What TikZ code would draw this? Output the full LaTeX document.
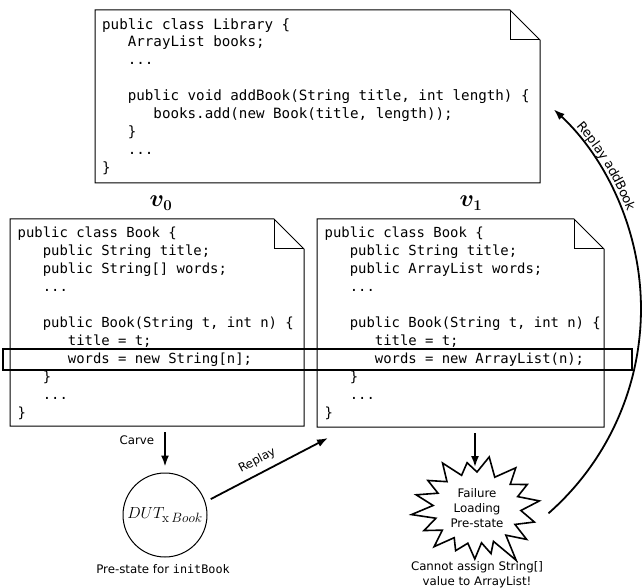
\RequirePackage{fix-cm}
\documentclass[tikz,border=0pt]{standalone}
\usepackage{amsmath,bm}
\usepackage[no-math]{fontspec}
\setmainfont{DejaVu Sans}
\setsansfont{DejaVu Sans}
\setmonofont{DejaVu Sans Mono}
\usetikzlibrary{arrows.meta,decorations.text}

% three-character indentation in the monospaced listings
\newcommand\codeind{\phantom{xxx}}
% page outline with a folded top-right corner around a named node
\newcommand\foldpage[1]{%
  \draw[boxline] (#1.north west) -- ([xshift=-30pt]#1.north east)
    -- ([yshift=-30pt]#1.north east) -- (#1.south east) -- (#1.south west) -- cycle;
  \draw[boxline] ([xshift=-30pt]#1.north east) |- ([yshift=-30pt]#1.north east);}

\begin{document}
\begin{tikzpicture}[x=1pt,y=1pt,
  boxline/.style={line width=1pt},
  pagebox/.style={rectangle, inner sep=0pt, outer sep=0pt, anchor=north west},
  code/.style={font=\ttfamily\fontsize{14.2}{17.9}\selectfont, align=left,
    inner sep=0pt, anchor=north west},
  bookcode/.style={code, font=\ttfamily\fontsize{13.9}{18}\selectfont},
  lbl/.style={font=\fontsize{11.8}{15}\selectfont, inner sep=0pt},
  arr/.style={line width=1.8pt, -{Latex[length=11pt,width=8pt]}},
]
\fill[white] (0,0) rectangle (643,-588);
\useasboundingbox (0,0) rectangle (643,-588);

% ---- class Library ----
\node[pagebox, minimum width=445pt, minimum height=173pt] (lib) at (95,-10) {};
\foldpage{lib}
\node[code] (libcode) at ([shift={(7pt,-8pt)}]lib.north west) {public class Library \{\\
\codeind ArrayList books;\\
\codeind ...\\
\mbox{}\\
\codeind public void addBook(String title, int length) \{\\
\codeind\codeind books.add(new Book(title, length));\\
\codeind \}\\
\codeind ...\\
\}};

% ---- version v0 of class Book ----
\node[pagebox, minimum width=294pt, minimum height=207pt] (v0) at (10,-219) {};
\foldpage{v0}
\node[bookcode] (v0code) at ([shift={(7.5pt,-8pt)}]v0.north west) {public class Book \{\\
\codeind public String title;\\
\codeind public String[] words;\\
\codeind ...\\
\mbox{}\\
\codeind public Book(String t, int n) \{\\
\codeind\codeind title = t;\\
\codeind\codeind words = new String[n];\\
\codeind \}\\
\codeind ...\\
\}};
\node[anchor=base, inner sep=0pt] (v0lbl) at (161,-207)
  {\fontsize{24}{24}\selectfont$\bm{v}_{\mbox{\fontsize{15}{15}\selectfont$\bm{0}$}}$};

% ---- version v1 of class Book ----
\node[pagebox, minimum width=287pt, minimum height=208pt] (v1) at (317,-219) {};
\foldpage{v1}
\node[bookcode] (v1code) at ([shift={(7.5pt,-8pt)}]v1.north west) {public class Book \{\\
\codeind public String title;\\
\codeind public ArrayList words;\\
\codeind ...\\
\mbox{}\\
\codeind public Book(String t, int n) \{\\
\codeind\codeind title = t;\\
\codeind\codeind words = new ArrayList(n);\\
\codeind \}\\
\codeind ...\\
\}};
\node[anchor=base, inner sep=0pt] (v1lbl) at (471,-207)
  {\fontsize{24}{24}\selectfont$\bm{v}_{\mbox{\fontsize{15}{15}\selectfont$\bm{1}$}}$};

% changed statement, highlighted across both versions
\node[draw, line width=1.8pt, minimum width=629pt, minimum height=21pt,
  inner sep=0pt, outer sep=0pt, anchor=north west] (hl) at (3,-349) {};

% ---- carved pre-state ----
\node[circle, draw, line width=1pt, minimum size=84pt, inner sep=0pt] (dut) at (165,-515)
  {\fontsize{16}{16}\selectfont$DUT_{\mbox{\fontsize{13.5}{13.5}\selectfont$\mathrm{x}\,Book$}}$};
\node[lbl] (prestate) at (163,-569) {Pre-state for \texttt{initBook}};
\draw[arr, shorten <=6pt, shorten >=6pt] (dut.north |- v0.south) -- (dut.north)
  node[lbl, pos=0.3, left=10pt] (carve) {Carve};

% ---- replay on v1 ----
\coordinate (replayend) at (328,-438);
\draw[arr, shorten <=6pt] (dut.18) -- (replayend)
  node[lbl, pos=0.47, sloped, above=6pt] (replay) {Replay};

% ---- failure: burst outline around the message ----
\node[align=center, inner sep=0pt, font=\fontsize{11.8}{15}\selectfont] (burst)
  at (477,-508) {Failure\\Loading\\Pre-state};
\begin{scope}[shift={(burst.center)}]
  \draw[line width=1.6pt, line join=miter]
    (8:63 and 51) -- (19:43 and 35) -- (30:58 and 47) -- (41:44 and 36)
    -- (52:63 and 51) -- (65:42 and 34) -- (79:64 and 52) -- (90:44 and 36)
    -- (100:57 and 46) -- (111:43 and 35) -- (122:65 and 53) -- (133:44 and 36)
    -- (145:60 and 48) -- (155:43 and 35) -- (165:63 and 51) -- (176:44 and 36)
    -- (187:66 and 54) -- (197:43 and 35) -- (208:60 and 48) -- (218:44 and 36)
    -- (228:64 and 52) -- (238:43 and 35) -- (248:57 and 46) -- (258:44 and 36)
    -- (268:63 and 51) -- (276:43 and 35) -- (284:58 and 47) -- (292:44 and 36)
    -- (301:76 and 61) -- (311:44 and 36) -- (322:63 and 51) -- (332:43 and 35)
    -- (343:60 and 48) -- (356:44 and 36) -- cycle;
\end{scope}
\coordinate (bursttip) at (475,-467);
\draw[arr, shorten <=6pt] (bursttip |- v1.south) -- (bursttip);
\node[lbl, align=center] (err) at (477,-574.5) {Cannot assign String[]\\value to ArrayList!};

% ---- replay addBook from the failure back to Library ----
\coordinate (arcstart) at (548.5,-513.3);
\draw[arr] (arcstart) arc[start angle=-48.7, end angle=47.2, radius=272pt];
\path[decorate, decoration={text effects along path, text={Replay addBook},
    text align=center, raise=4pt,
    text effects/.cd, text along path,
    characters={font=\fontsize{12.8}{14}\selectfont},
    character widths={inner xsep=0.6pt}}]
  (369,-309) ++(45:272pt) arc[start angle=45, end angle=17, radius=272pt];
\end{tikzpicture}
\end{document}
